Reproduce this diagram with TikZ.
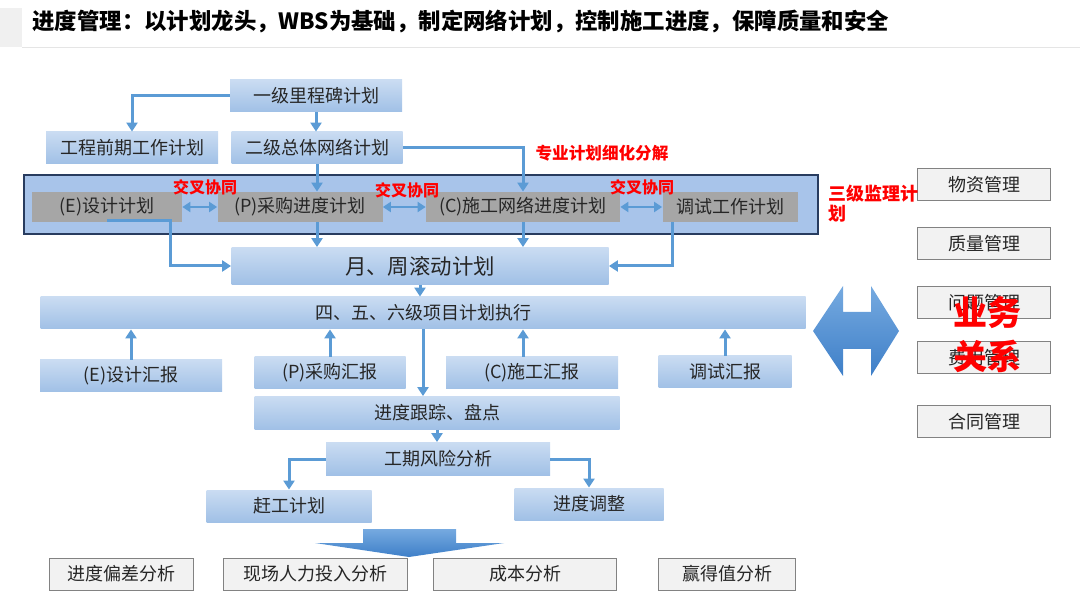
\documentclass[tikz,border=0pt]{standalone}
\usepackage{fontspec}
\setmainfont{Noto Sans CJK SC}
\usetikzlibrary{arrows.meta}

\definecolor{linkblue}{RGB}{91,155,213}
\definecolor{plantop}{RGB}{202,220,242}
\definecolor{planbot}{RGB}{160,192,230}
\definecolor{bandfill}{RGB}{168,196,234}
\definecolor{bandline}{RGB}{40,60,95}
\definecolor{subgray}{RGB}{166,166,166}
\definecolor{mgmtfill}{RGB}{242,242,242}
\definecolor{mgmtline}{RGB}{130,130,130}
\definecolor{txt}{RGB}{38,38,38}
\definecolor{bigtop}{RGB}{118,170,224}
\definecolor{bigbot}{RGB}{62,127,200}

\tikzset{
  plan/.style={top color=plantop, bottom color=planbot, text=txt,
    font=\fontsize{9}{11}\selectfont, inner sep=0pt, minimum height=16pt},
  sub/.style={fill=subgray, text=txt, font=\fontsize{9}{11}\selectfont,
    inner sep=0pt, minimum height=15pt},
  mgmt/.style={draw=mgmtline, line width=0.5pt, fill=mgmtfill, text=txt,
    font=\fontsize{9}{11}\selectfont, inner sep=0pt, minimum height=16pt},
  redtag/.style={text=red, font=\bfseries\fontsize{8}{9}\selectfont, inner sep=0pt},
  link/.style={draw=linkblue, line width=1.5pt, -{Triangle[length=4.5pt,width=5.5pt]}},
  duo/.style={draw=linkblue, line width=1.2pt,
    {Triangle[length=4pt,width=5pt]}-{Triangle[length=4pt,width=5pt]}},
}

\begin{document}
\begin{tikzpicture}[x=0.5pt,y=-0.5pt]
  \useasboundingbox (0,0) rectangle (1080,608);
  % title
  \fill[black!6] (0,8) rectangle (22,47);
  \draw[black!10] (22,47) -- (1080,47);
  \node[anchor=west, inner sep=0pt, font=\bfseries\fontsize{11.2}{13}\selectfont] (title) at (32,22)
    {进度管理：以计划龙头，WBS为基础，制定网络计划，控制施工进度，保障质量和安全};

  % level three band
  \draw[fill=bandfill, draw=bandline, line width=0.8pt] (24,175) rectangle (818,234);

  \begin{scope}[every node/.style={plan}]
    \node[minimum width=86pt] (m1) at (316,96) {一级里程碑计划};
    \node[minimum width=86pt] (pre) at (132,148) {工程前期工作计划};
    \node[minimum width=85.5pt] (m2) at (317,148) {二级总体网络计划};
    \node[minimum width=188.5pt, minimum height=18.5pt, font=\fontsize{10.7}{12}\selectfont] (roll) at (420,266) {月、周滚动计划};
    \node[minimum width=382.5pt] (exec) at (423,313) {四、五、六级项目计划执行};
    \node[minimum width=91pt] (er) at (131,376) {(E)设计汇报};
    \node[minimum width=75.5pt] (pr) at (330,373) {(P)采购汇报};
    \node[minimum width=86pt] (cr) at (532,373) {(C)施工汇报};
    \node[minimum width=66.5pt] (tr) at (725,372) {调试汇报};
    \node[minimum width=182.5pt, minimum height=16.5pt] (track) at (437,413) {进度跟踪、盘点};
    \node[minimum width=112pt, minimum height=16.5pt] (risk) at (438,459) {工期风险分析};
    \node[minimum width=82.5pt] (rush) at (289,506) {赶工计划};
    \node[minimum width=74.5pt] (adj) at (589,504) {进度调整};
  \end{scope}

  \begin{scope}[every node/.style={sub}]
    \node[minimum width=75pt] (e) at (107,207) {(E)设计计划};
    \node[minimum width=82.5pt] (p) at (300,207) {(P)采购进度计划};
    \node[minimum width=97pt] (c) at (523,207) {(C)施工网络进度计划};
    \node[minimum width=67.5pt] (t) at (730,207) {调试工作计划};
  \end{scope}

  \begin{scope}[every node/.style={mgmt}]
    \node[minimum width=72pt] (b1) at (121,574) {进度偏差分析};
    \node[minimum width=92pt] (b2) at (315,574) {现场人力投入分析};
    \node[minimum width=91.5pt] (b3) at (525,574) {成本分析};
    \node[minimum width=68.5pt] (b4) at (727,574) {赢得值分析};
    \node[minimum width=66.5pt] (r1) at (984,185) {物资管理};
    \node[minimum width=66.5pt] (r2) at (984,244) {质量管理};
    \node[minimum width=66.5pt] (r3) at (984,303) {问题管理};
    \node[minimum width=66.5pt] (r4) at (984,358) {费用管理};
    \node[minimum width=66.5pt] (r5) at (984,422) {合同管理};
  \end{scope}

  % red labels
  \node[redtag] (x1) at (205,187) {交叉协同};
  \node[redtag] (x2) at (407,190) {交叉协同};
  \node[redtag] (x3) at (642,187) {交叉协同};
  \node[redtag, font=\bfseries\fontsize{8.3}{10}\selectfont] (split) at (602,153) {专业计划细化分解};
  \node[redtag, anchor=north west, align=left, font=\bfseries\fontsize{9}{10}\selectfont] (sup) at (828,185) {三级监理计\\划};

  % connectors
  \draw[link] (m1.west) -| (pre.north);
  \draw[link] (m1.south) -- (m1.south |- m2.north);
  \draw[link] (m2.east) -| (c.north);
  \draw[link] (m2.south) -- (m2.south |- p.north);
  \draw[duo] (e.east) -- (p.west);
  \draw[duo] (p.east) -- (c.west);
  \draw[duo] (c.east) -- (t.west);
  \draw[link] ([yshift=1pt]e.south) -- ++(63,0) |- (roll.west);
  \draw[link] (m2.south |- p.south) -- (m2.south |- roll.north);
  \draw[link] (c.south) -- (c.south |- roll.north);
  \draw[link] ([xshift=5pt]t.south west) |- (roll.east);
  \draw[link] (roll.south) -- (roll.south |- exec.north);
  \draw[link] (er.north) -- (er.north |- exec.south);
  \draw[link] (pr.north) -- (pr.north |- exec.south);
  \draw[link] (c.south |- cr.north) -- (c.south |- exec.south);
  \draw[link] (tr.north) -- (tr.north |- exec.south);
  \draw[link] (exec.south) -- (exec.south |- track.north);
  \draw[link] (track.south) -- (track.south |- risk.north);
  \draw[link] (risk.west) -| (rush.north);
  \draw[link] (risk.east) -| (adj.north);

  % big arrows
  \shade[top color=bigtop, bottom color=bigbot]
    (363,529) -- (456,529) -- (456,543) -- (504,543) -- (409,557)
    -- (315,543) -- (363,543) -- cycle;
  \shade[top color=bigtop, bottom color=bigbot]
    (813,331) -- (843,286) -- (843,312) -- (871,312) -- (871,286)
    -- (899,331) -- (871,376) -- (871,349) -- (843,349) -- (843,376) -- cycle;

  \node[text=red, font=\bfseries\fontsize{17}{22}\selectfont, align=center, inner sep=0pt] (biz) at (987,335) {业务\\关系};
\end{tikzpicture}
\end{document}
